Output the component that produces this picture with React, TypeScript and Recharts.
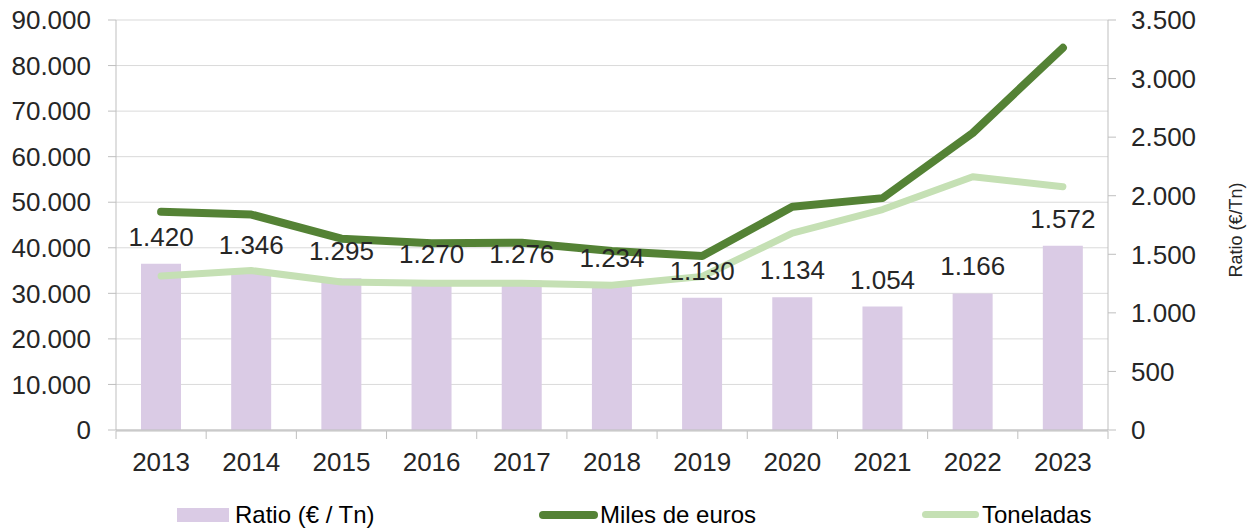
import React from "react";
import {
  ComposedChart,
  Bar,
  Line,
  XAxis,
  YAxis,
  CartesianGrid,
  Legend,
} from "recharts";

const years = ["2013", "2014", "2015", "2016", "2017", "2018", "2019", "2020", "2021", "2022", "2023"];
const ratio = [1420, 1346, 1295, 1270, 1276, 1234, 1130, 1134, 1054, 1166, 1572];
const milesEuros = [47900, 47300, 42000, 41000, 41100, 39300, 38200, 49000, 50900, 65200, 83900];
const toneladas = [33800, 35000, 32500, 32200, 32200, 31800, 33700, 43200, 48400, 55600, 53400];

const leftTicks = [0, 10000, 20000, 30000, 40000, 50000, 60000, 70000, 80000, 90000];
const rightTicks = [0, 500, 1000, 1500, 2000, 2500, 3000, 3500];

const data = years.map((year, i) => ({
  year,
  ratio: ratio[i],
  miles: milesEuros[i],
  toneladas: toneladas[i],
}));

const FONT = '"Liberation Sans", Arial, sans-serif';
const TEXT = "#262626";
const AXIS = "#bfbfbf";
const PURPLE = "#dacbe5";
const DARK_GREEN = "#548235";
const LIGHT_GREEN = "#c5e0b4";

const fmt = (v: number) => String(v).replace(/\B(?=(\d{3})+(?!\d))/g, ".");

const YearTick = (props: any) => {
  const { x, y, payload, index } = props;
  const half = payload.offset || 45.1;
  return (
    <g>
      <line x1={x - half} x2={x - half} y1={y - 8} y2={y} stroke={AXIS} />
      {index === years.length - 1 && (
        <line x1={x + half} x2={x + half} y1={y - 8} y2={y} stroke={AXIS} />
      )}
      <text x={x} y={y + 32} textAnchor="middle" fontSize={26} fill={TEXT}>
        {payload.value}
      </text>
    </g>
  );
};

const RatioLabel = (props: any) => {
  const { x, y, value } = props;
  if (x == null || y == null) return null;
  return (
    <text x={x} y={y - 18} textAnchor="middle" fontSize={26} fill={TEXT}>
      {fmt(value)}
    </text>
  );
};

const LegendBox = () => (
  <div style={{ position: "relative", width: 1253, height: 28, fontSize: 24, color: "#000" }}>
    <div style={{ position: "absolute", left: 177, top: 7, width: 52, height: 14, background: PURPLE }} />
    <span style={{ position: "absolute", left: 235, top: 0, lineHeight: "28px" }}>Ratio (€ / Tn)</span>
    <div style={{ position: "absolute", left: 539, top: 10, width: 59, height: 8, borderRadius: 4, background: DARK_GREEN }} />
    <span style={{ position: "absolute", left: 600, top: 0, lineHeight: "28px" }}>Miles de euros</span>
    <div style={{ position: "absolute", left: 922, top: 10, width: 57, height: 7, borderRadius: 4, background: LIGHT_GREEN }} />
    <span style={{ position: "absolute", left: 982, top: 0, lineHeight: "28px" }}>Toneladas</span>
  </div>
);

export default function App() {
  return (
    <div style={{ position: "absolute", left: 0, top: 0, width: 1253, height: 528, fontFamily: FONT, background: "#fff" }}>
      <ComposedChart
        width={1253}
        height={528}
        data={data}
        margin={{ top: 20, right: 0, bottom: 20, left: 0 }}
      >
        <XAxis
          xAxisId="main"
          dataKey="year"
          height={49}
          axisLine={{ stroke: AXIS }}
          tickLine={false}
          tickSize={8}
          tickMargin={0}
          tick={<YearTick />}
          interval={0}
        />
        <XAxis
          xAxisId="frame"
          dataKey="year"
          height={1}
          axisLine={{ stroke: AXIS }}
          tickLine={false}
          tick={false}
        />
        <YAxis
          yAxisId="left"
          width={116}
          domain={[0, 90000]}
          ticks={leftTicks}
          interval={0}
          axisLine={{ stroke: AXIS }}
          tickLine={{ stroke: AXIS }}
          tickSize={8}
          tickMargin={17}
          tickFormatter={fmt}
          tick={{ fontSize: 26, fill: TEXT }}
        />
        <YAxis
          yAxisId="right"
          orientation="right"
          width={145}
          domain={[0, 3500]}
          ticks={rightTicks}
          interval={0}
          axisLine={{ stroke: AXIS }}
          tickLine={{ stroke: AXIS }}
          tickSize={8}
          tickMargin={15}
          tickFormatter={fmt}
          tick={{ fontSize: 26, fill: TEXT, textAnchor: "start" }}
          label={{
            value: "Ratio (€/Tn)",
            angle: -90,
            position: "center",
            dx: 55,
            dy: 5,
            fontSize: 18,
            fill: TEXT,
          }}
        />
        <Bar
          xAxisId="main"
          yAxisId="right"
          dataKey="ratio"
          name="Ratio (€ / Tn)"
          fill={PURPLE}
          barSize={40}
          isAnimationActive={false}
        />
        <CartesianGrid
          xAxisId="main"
          yAxisId="left"
          vertical={false}
          stroke="#000"
          strokeOpacity={0.15}
          horizontalValues={leftTicks}
        />
        <Line
          xAxisId="main"
          yAxisId="left"
          dataKey="toneladas"
          name="Toneladas"
          stroke={LIGHT_GREEN}
          strokeWidth={7}
          strokeLinecap="round"
          strokeLinejoin="round"
          dot={false}
          activeDot={false}
          isAnimationActive={false}
        />
        <Line
          xAxisId="main"
          yAxisId="left"
          dataKey="miles"
          name="Miles de euros"
          stroke={DARK_GREEN}
          strokeWidth={8}
          strokeLinecap="round"
          strokeLinejoin="round"
          dot={false}
          activeDot={false}
          isAnimationActive={false}
        />
        <Line
          xAxisId="main"
          yAxisId="right"
          dataKey="ratio"
          stroke="none"
          legendType="none"
          dot={false}
          activeDot={false}
          label={<RatioLabel />}
          isAnimationActive={false}
        />
        <Legend
          verticalAlign="bottom"
          content={<LegendBox />}
          wrapperStyle={{ left: 0, top: 501, width: 1253, height: 28 }}
        />
      </ComposedChart>
    </div>
  );
}
